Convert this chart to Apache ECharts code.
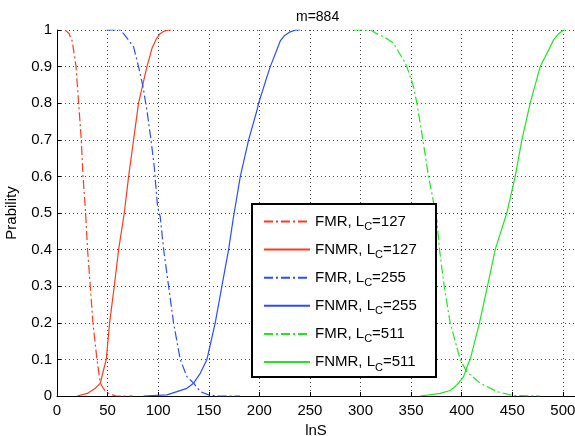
<!DOCTYPE html>
<html>
<head>
<meta charset="utf-8">
<script src="https://cdn.jsdelivr.net/npm/echarts@6/dist/echarts.min.js"></script>
<style>html,body{margin:0;padding:0;background:#fff;}#c{width:575px;height:436px;}</style>
</head>
<body>
<div id="c"></div>
<script>
const xTicks = [0, 50, 100, 150, 200, 250, 300, 350, 400, 450, 500];
const yTicks = [0, 0.1, 0.2, 0.3, 0.4, 0.5, 0.6, 0.7, 0.8, 0.9, 1];

const fmr127X = [8, 12, 15, 18.8, 21.4, 24, 25.7, 28.3, 30.2, 32.9, 35.5, 39.5, 42.8, 46, 49, 55, 58, 75];
const fmr127Y = [1, 0.99, 0.97, 0.9, 0.8, 0.7, 0.6, 0.5, 0.4, 0.3, 0.2, 0.1, 0.035, 0.02, 0.01, 0.003, 0, 0];

const fnmr127X = [20, 30, 37.8, 42.8, 46, 48.7, 52, 56.6, 60.9, 66.5, 70.8, 75.7, 80.6, 88.9, 93.9, 98, 102, 106, 110.3, 113];
const fnmr127Y = [0, 0.007, 0.021, 0.035, 0.071, 0.1, 0.2, 0.3, 0.4, 0.5, 0.6, 0.7, 0.8, 0.9, 0.95, 0.975, 0.99, 0.997, 1, 1];

const fmr255X = [49, 62, 65.8, 70, 75.7, 80.6, 85, 88.9, 92.9, 96.1, 99.4, 102, 105.4, 110.3, 115.2, 121.8, 128.4, 135, 141.6, 149.8, 160, 181];
const fmr255Y = [1, 1, 0.99, 0.975, 0.954, 0.9, 0.845, 0.78, 0.7, 0.627, 0.517, 0.49, 0.4, 0.3, 0.2, 0.1, 0.053, 0.035, 0.012, 0.003, 0, 0];

const fnmr255X = [85.6, 108.7, 118.6, 128.4, 135, 141.6, 148.2, 156.4, 163, 169.6, 174.5, 181.2, 189.4, 197.6, 199.3, 207.5, 210.8, 220.7, 225, 230.5, 236, 240.4];
const fnmr255Y = [0, 0.003, 0.012, 0.021, 0.035, 0.062, 0.1, 0.2, 0.3, 0.4, 0.49, 0.6, 0.7, 0.78, 0.8, 0.872, 0.9, 0.97, 0.985, 0.995, 1, 1];

const fmr511X = [293, 310, 316, 324, 332.6, 342.5, 345.8, 352.4, 355.7, 361.6, 367.2, 370.5, 375.5, 378.1, 382.7, 388.6, 398.5, 405.1, 418.3, 434.8, 451.2, 477];
const fmr511Y = [1, 1, 0.99, 0.98, 0.964, 0.918, 0.9, 0.845, 0.8, 0.7, 0.6, 0.554, 0.48, 0.4, 0.3, 0.2, 0.1, 0.066, 0.035, 0.012, 0.001, 0];

const fnmr511X = [359, 378.8, 388.6, 395.2, 401.8, 406.7, 408.4, 417.6, 425.5, 433.1, 444.6, 452.9, 459.5, 467.7, 477.6, 484.2, 490.8, 496, 500.6, 503];
const fnmr511Y = [0, 0.007, 0.015, 0.03, 0.053, 0.09, 0.1, 0.2, 0.3, 0.4, 0.5, 0.6, 0.7, 0.8, 0.9, 0.936, 0.973, 0.99, 1, 1];

const names = ['FMR, L_C=127', 'FNMR, L_C=127', 'FMR, L_C=255', 'FNMR, L_C=255', 'FMR, L_C=511', 'FNMR, L_C=511'];

const RED = '#ff3a1a', BLUE = '#2a4dff', GREEN = '#1fe61f';
const DASHDOT = [9, 3, 2, 3];

function pts(xs, ys) { return xs.map((x, i) => [x, ys[i]]); }

const seriesDefs = [
  [names[0], fmr127X, fmr127Y, RED, DASHDOT],
  [names[1], fnmr127X, fnmr127Y, RED, 'solid'],
  [names[2], fmr255X, fmr255Y, BLUE, DASHDOT],
  [names[3], fnmr255X, fnmr255Y, BLUE, 'solid'],
  [names[4], fmr511X, fmr511Y, GREEN, DASHDOT],
  [names[5], fnmr511X, fnmr511Y, GREEN, 'solid']
];

const FONT = 'Liberation Sans, Arial, Helvetica, sans-serif';
const chart = echarts.init(document.getElementById('c'), null, { renderer: 'canvas' });
chart.setOption({
  animation: false,
  backgroundColor: '#fff',
  textStyle: { fontFamily: FONT },
  title: {
    text: 'm=884', left: 291, top: 5,
    textStyle: { fontFamily: FONT, fontSize: 14, fontWeight: 'normal', color: '#000' }
  },
  grid: { left: 57, top: 30, right: 0, bottom: 40, containLabel: false, outerBoundsMode: 'none' },
  xAxis: {
    type: 'value', min: 0, max: 512, interval: 50,
    name: 'lnS', nameLocation: 'middle', nameGap: 22,
    nameTextStyle: { fontFamily: FONT, fontSize: 15, color: '#000' },
    axisLine: { show: true, lineStyle: { color: '#000', width: 1 } },
    axisTick: { show: true, inside: true, length: 4, lineStyle: { color: '#000' } },
    axisLabel: { show: true, showMaxLabel: false, margin: 7, fontFamily: FONT, fontSize: 15, color: '#000' },
    splitLine: { show: true, lineStyle: { color: '#444', type: [1, 3], width: 1 } }
  },
  yAxis: {
    type: 'value', min: 0, max: 1, interval: 0.1,
    name: 'Prability', nameLocation: 'middle', nameGap: 38, nameRotate: 90,
    nameTextStyle: { fontFamily: FONT, fontSize: 15, color: '#000' },
    axisLine: { show: true, lineStyle: { color: '#000', width: 1 } },
    axisTick: { show: true, inside: true, length: 4, lineStyle: { color: '#000' } },
    axisLabel: { show: true, margin: 5, fontFamily: FONT, fontSize: 15, color: '#000',
      formatter: v => String(Math.round(v * 10) / 10) },
    splitLine: { show: true, lineStyle: { color: '#444', type: [1, 3], width: 1 } }
  },
  graphic: [{
    type: 'rect', z: 3, left: 251, top: 203,
    shape: { width: 184, height: 173 },
    style: { fill: '#fff', stroke: '#000', lineWidth: 2 }
  }],
  legend: {
    z: 10,
    orient: 'vertical', left: 258, top: 209,
    itemWidth: 46, itemHeight: 14, itemGap: 9.6,
    data: names,
    itemStyle: { opacity: 0 },
    formatter: function (n) {
      const m = n.match(/^(.*), L_C=(\d+)$/);
      return '{t|' + m[1] + ', L}{s|C}{t|=' + m[2] + '}';
    },
    textStyle: {
      fontFamily: FONT, fontSize: 15, color: '#000',
      rich: {
        t: { fontFamily: FONT, fontSize: 15, color: '#000' },
        s: { fontFamily: FONT, fontSize: 11, color: '#000', padding: [11, 0, 0, 0] }
      }
    }
  },
  series: seriesDefs.map(d => ({
    name: d[0], type: 'line', data: pts(d[1], d[2]),
    symbol: 'none', showSymbol: false, smooth: false, z: 2,
    color: d[3],
    lineStyle: { color: d[3], width: 1.2, type: d[4] },
    itemStyle: { color: d[3] }
  }))
});
</script>
</body>
</html>
